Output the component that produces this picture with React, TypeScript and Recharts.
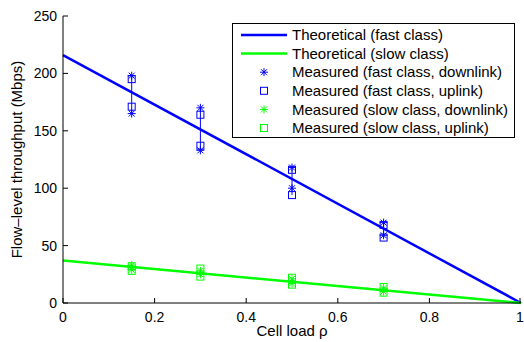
import { ComposedChart, Line, Scatter, ErrorBar, XAxis, YAxis, Legend } from "recharts";

const BLUE = "#0000ff";
const GREEN = "#00ff00";
const FONT = "'Liberation Sans', Arial, Helvetica, sans-serif";

// cell loads where throughput was measured
const loads = [0.15, 0.3, 0.5, 0.7];

// measured throughput (Mbps), two runs per load
const fastDownHigh = [198, 170, 118, 70];
const fastDownLow = [165, 133, 100, 59];
const fastUpHigh = [195, 164, 116, 68];
const fastUpLow = [171, 137, 94, 57];
const slowDownHigh = [33, 28, 21, 13];
const slowDownLow = [29, 25, 17, 10];
const slowUpHigh = [32, 30, 22, 14];
const slowUpLow = [28, 23, 16, 9];

// theoretical curves: throughput at load 0 and 1
const theoryLoads = [0, 1];
const fastTheory = [216, 0];
const slowTheory = [37, 0];

const xTicks = [0, 0.2, 0.4, 0.6, 0.8, 1];
const yTicks = [0, 50, 100, 150, 200, 250];

const toPoints = (xs: number[], ys: number[]) => xs.map((x, i) => ({ x, y: ys[i] }));
const pairPoints = (hi: number[], lo: number[]) =>
  loads.flatMap((x, i) => [{ x, y: hi[i] }, { x, y: lo[i] }]);

const rangePoints = (series: number[][]) =>
  loads.map((x, i) => {
    const vals = series.map((s) => s[i]);
    const lo = Math.min(...vals);
    const hi = Math.max(...vals);
    return { x, y: lo, err: [0, hi - lo] };
  });

const fastRange = rangePoints([fastDownHigh, fastDownLow, fastUpHigh, fastUpLow]);
const slowRange = rangePoints([slowDownHigh, slowDownLow, slowUpHigh, slowUpLow]);

const Star = ({ cx, cy, color }: any) => (
  <g stroke={color} strokeWidth={1} fill="none">
    <line x1={cx} y1={cy - 4} x2={cx} y2={cy + 4} />
    <line x1={cx - 4} y1={cy} x2={cx + 4} y2={cy} />
    <line x1={cx - 3} y1={cy - 3} x2={cx + 3} y2={cy + 3} />
    <line x1={cx - 3} y1={cy + 3} x2={cx + 3} y2={cy - 3} />
  </g>
);

const Square = ({ cx, cy, color }: any) => (
  <rect x={cx - 3.5} y={cy - 3.5} width={7} height={7} fill="none" stroke={color} strokeWidth={1} />
);

const Nothing = () => <g />;

const fmtX = (v: number) => (v === 0 || v === 1 ? String(v) : v.toFixed(1));

const BottomTick = ({ x, y, payload }: any) => (
  <g>
    <line x1={x} y1={y} x2={x} y2={y - 5} stroke="#000" />
    <text x={x} y={y + 19} textAnchor="middle" fontSize={14} fontFamily={FONT} fill="#000">
      {fmtX(payload.value)}
    </text>
  </g>
);

const TopTick = ({ x, y }: any) => <line x1={x} y1={y} x2={x} y2={y + 5} stroke="#000" />;

const LeftTick = ({ x, y, payload }: any) => (
  <g>
    <line x1={x} y1={y} x2={x + 5} y2={y} stroke="#000" />
    <text x={x - 6} y={y} dy="0.35em" textAnchor="end" fontSize={14} fontFamily={FONT} fill="#000">
      {payload.value}
    </text>
  </g>
);

const RightTick = ({ x, y }: any) => <line x1={x} y1={y} x2={x - 5} y2={y} stroke="#000" />;

const legendItems = [
  { label: "Theoretical (fast class)", kind: "line", color: BLUE },
  { label: "Theoretical (slow class)", kind: "line", color: GREEN },
  { label: "Measured (fast class, downlink)", kind: "star", color: BLUE },
  { label: "Measured (fast class, uplink)", kind: "square", color: BLUE },
  { label: "Measured (slow class, downlink)", kind: "star", color: GREEN },
  { label: "Measured (slow class, uplink)", kind: "square", color: GREEN },
];

const ROW_H = 18.6;

const LegendBox = () => (
  <svg width={283} height={115} style={{ display: "block" }}>
    <rect x={0.5} y={0.5} width={282} height={114} fill="#fff" stroke="#000" />
    {legendItems.map((item, i) => {
      const cy = 12 + i * ROW_H;
      return (
        <g key={item.label}>
          {item.kind === "line" && (
            <line x1={9} y1={cy} x2={55} y2={cy} stroke={item.color} strokeWidth={2.5} />
          )}
          {item.kind === "star" && <Star cx={32} cy={cy} color={item.color} />}
          {item.kind === "square" && <Square cx={32} cy={cy} color={item.color} />}
          <text x={60} y={cy} dy="0.35em" fontSize={15} fontFamily={FONT} fill="#000">
            {item.label}
          </text>
        </g>
      );
    })}
  </svg>
);

const YTitle = ({ viewBox }: any) => {
  const x = viewBox.x + 17;
  const y = viewBox.y + viewBox.height / 2;
  return (
    <text x={x} y={y} transform={`rotate(-90, ${x}, ${y})`} textAnchor="middle" dy="0.35em" fontSize={15} fontFamily={FONT} fill="#000">
      Flow–level throughput (Mbps)
    </text>
  );
};

const XTitle = ({ viewBox }: any) => (
  <text x={viewBox.x + viewBox.width / 2} y={viewBox.y + 33} textAnchor="middle" fontSize={15} fontFamily={FONT} fill="#000">
    Cell load ρ
  </text>
);

export default function App() {
  return (
    <div style={{ position: "absolute", left: 0, top: 0, width: 524, height: 342, background: "#fff" }}>
      <ComposedChart width={524} height={342} margin={{ top: 16, right: 3, left: 0, bottom: 0 }}>
        <XAxis
          xAxisId="bottom"
          dataKey="x"
          type="number"
          domain={[0, 1]}
          ticks={xTicks}
          height={39}
          stroke="#000"
          tickLine={false}
          tickSize={0}
          tickMargin={0}
          tick={<BottomTick />}
          label={<XTitle />}
        />
        <XAxis
          xAxisId="top"
          orientation="top"
          dataKey="x"
          type="number"
          domain={[0, 1]}
          ticks={xTicks}
          height={0}
          stroke="#000"
          tickLine={false}
          tickSize={0}
          tickMargin={0}
          tick={<TopTick />}
        />
        <YAxis
          yAxisId="left"
          dataKey="y"
          type="number"
          domain={[0, 250]}
          ticks={yTicks}
          width={63}
          stroke="#000"
          tickLine={false}
          tickSize={0}
          tickMargin={0}
          tick={<LeftTick />}
          label={<YTitle />}
        />
        <YAxis
          yAxisId="right"
          orientation="right"
          dataKey="y"
          type="number"
          domain={[0, 250]}
          ticks={yTicks}
          width={0}
          stroke="#000"
          tickLine={false}
          tickSize={0}
          tickMargin={0}
          tick={<RightTick />}
        />

        <Line xAxisId="bottom" yAxisId="left" data={toPoints(theoryLoads, fastTheory)} dataKey="y" stroke={BLUE} strokeWidth={2.5} dot={false} isAnimationActive={false} />
        <Line xAxisId="bottom" yAxisId="left" data={toPoints(theoryLoads, slowTheory)} dataKey="y" stroke={GREEN} strokeWidth={2.5} dot={false} isAnimationActive={false} />

        <Scatter xAxisId="bottom" yAxisId="left" data={fastRange} dataKey="y" shape={<Nothing />} isAnimationActive={false}>
          <ErrorBar dataKey="err" direction="y" width={0} stroke={BLUE} strokeWidth={1} isAnimationActive={false} />
        </Scatter>
        <Scatter xAxisId="bottom" yAxisId="left" data={slowRange} dataKey="y" shape={<Nothing />} isAnimationActive={false}>
          <ErrorBar dataKey="err" direction="y" width={0} stroke={GREEN} strokeWidth={1} isAnimationActive={false} />
        </Scatter>

        <Scatter xAxisId="bottom" yAxisId="left" data={pairPoints(fastDownHigh, fastDownLow)} dataKey="y" shape={<Star color={BLUE} />} isAnimationActive={false} />
        <Scatter xAxisId="bottom" yAxisId="left" data={pairPoints(fastUpHigh, fastUpLow)} dataKey="y" shape={<Square color={BLUE} />} isAnimationActive={false} />
        <Scatter xAxisId="bottom" yAxisId="left" data={pairPoints(slowDownHigh, slowDownLow)} dataKey="y" shape={<Star color={GREEN} />} isAnimationActive={false} />
        <Scatter xAxisId="bottom" yAxisId="left" data={pairPoints(slowUpHigh, slowUpLow)} dataKey="y" shape={<Square color={GREEN} />} isAnimationActive={false} />

        <Legend layout="vertical" align="center" verticalAlign="middle" wrapperStyle={{ top: 23, left: 232, width: 283 }} content={<LegendBox />} />
      </ComposedChart>
    </div>
  );
}
